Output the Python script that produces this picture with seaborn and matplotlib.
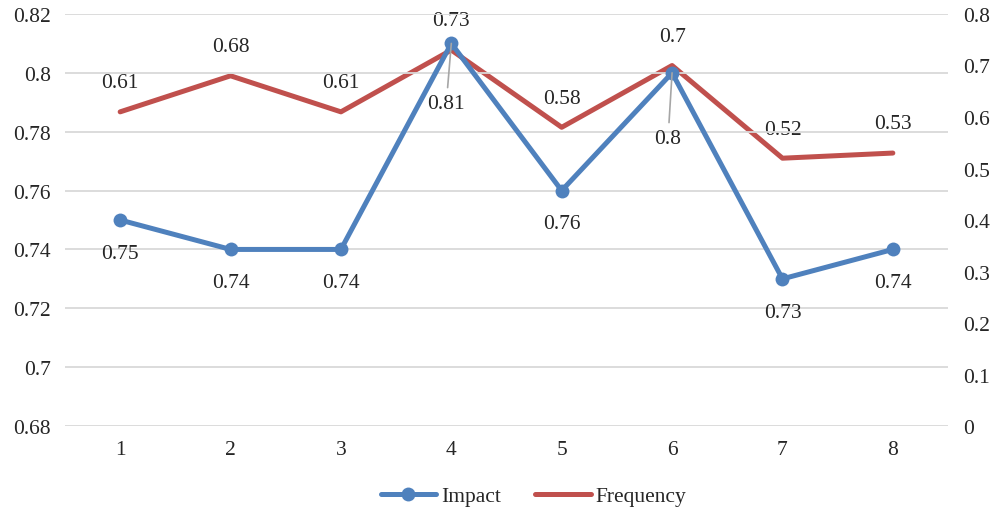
import numpy as np
import pandas as pd
import matplotlib
import matplotlib.pyplot as plt
import seaborn as sns
from matplotlib.lines import Line2D

matplotlib.use("Agg")

CATEGORIES = [1, 2, 3, 4, 5, 6, 7, 8]
IMPACT = [0.75, 0.74, 0.74, 0.81, 0.76, 0.80, 0.73, 0.74]
FREQUENCY = [0.61, 0.68, 0.61, 0.73, 0.58, 0.70, 0.52, 0.53]
IMPACT_LABELS = ["0.75", "0.74", "0.74", "0.81", "0.76", "0.8", "0.73", "0.74"]
FREQUENCY_LABELS = ["0.61", "0.68", "0.61", "0.73", "0.58", "0.7", "0.52", "0.53"]
LEFT_TICKS = [0.68, 0.70, 0.72, 0.74, 0.76, 0.78, 0.80, 0.82]
LEFT_TICK_LABELS = ["0.68", "0.7", "0.72", "0.74", "0.76", "0.78", "0.8", "0.82"]
RIGHT_TICKS = [0, 0.1, 0.2, 0.3, 0.4, 0.5, 0.6, 0.7, 0.8]
RIGHT_TICK_LABELS = ["0", "0.1", "0.2", "0.3", "0.4", "0.5", "0.6", "0.7", "0.8"]

COLOR_IMPACT = "#4F81BD"
COLOR_FREQ = "#C0504D"
GRID_COLOR = "#D9D9D9"
FONT_SIZE = 15.5

sns.set_style("white")
plt.rcParams["font.family"] = ["Liberation Serif", "DejaVu Serif"]

df = pd.DataFrame({"x": CATEGORIES, "impact": IMPACT, "freq": FREQUENCY})

fig = plt.figure(figsize=(9.95, 5.1), dpi=100)
ax = fig.add_axes([0.0653, 0.1627, 0.8875, 0.8079])
ax2 = ax.twinx()

# left axis: Impact
sns.lineplot(data=df, x="x", y="impact", ax=ax, color=COLOR_IMPACT,
             linewidth=3.6, marker="o", markersize=10, markeredgewidth=0,
             zorder=3)
ax.set_ylim(0.68, 0.82)
ax.set_xlim(0.5, 8.5)
ax.set_yticks(LEFT_TICKS)
ax.set_yticklabels(LEFT_TICK_LABELS, fontsize=FONT_SIZE)
ax.set_xticks(CATEGORIES)
ax.set_xticklabels([str(c) for c in CATEGORIES], fontsize=FONT_SIZE)
ax.set_xlabel("")
ax.set_ylabel("")
ax.grid(True, axis="y", color=GRID_COLOR, linewidth=1.3)
ax.set_axisbelow(True)
ax.tick_params(axis="both", length=0, pad=10)

# right axis: Frequency
sns.lineplot(data=df, x="x", y="freq", ax=ax2, color=COLOR_FREQ,
             linewidth=3.6, zorder=2)
ax2.set_ylim(0, 0.8)
ax2.set_yticks(RIGHT_TICKS)
ax2.set_yticklabels(RIGHT_TICK_LABELS, fontsize=FONT_SIZE)
ax2.set_ylabel("")
ax2.tick_params(axis="y", length=0, pad=11)

# put the impact line above the frequency line
ax.set_zorder(ax2.get_zorder() + 1)
ax.patch.set_visible(False)

for a in (ax, ax2):
    for side in ["top", "left", "right", "bottom"]:
        a.spines[side].set_visible(False)

# data labels
leader = {3: (-3.6, -43), 5: (-2.9, -47)}
for i, (x, y, lab) in enumerate(zip(CATEGORIES, IMPACT, IMPACT_LABELS)):
    if i in leader:
        ax.annotate(lab, (x, y), xytext=leader[i], textcoords="offset points",
                    ha="center", va="center", fontsize=FONT_SIZE,
                    arrowprops=dict(arrowstyle="-", color="#A6A6A6", lw=1.2,
                                    shrinkA=2, shrinkB=0))
    else:
        ax.annotate(lab, (x, y), xytext=(0, -24), textcoords="offset points",
                    ha="center", va="center", fontsize=FONT_SIZE)

for x, y, lab in zip(CATEGORIES, FREQUENCY, FREQUENCY_LABELS):
    ax2.annotate(lab, (x, y), xytext=(0, 21), textcoords="offset points",
                 ha="center", va="center", fontsize=FONT_SIZE)

handles = [
    Line2D([], [], color=COLOR_IMPACT, lw=3.6, marker="o", markersize=10,
           markeredgewidth=0),
    Line2D([], [], color=COLOR_FREQ, lw=3.6),
]
fig.legend(handles, ["Impact", "Frequency"], loc="center",
           bbox_to_anchor=(0.536, 0.025), ncol=2, frameon=False,
           fontsize=FONT_SIZE, handlelength=2.6, handletextpad=0.2,
           columnspacing=1.6)

fig.savefig("out.png", dpi=100)
